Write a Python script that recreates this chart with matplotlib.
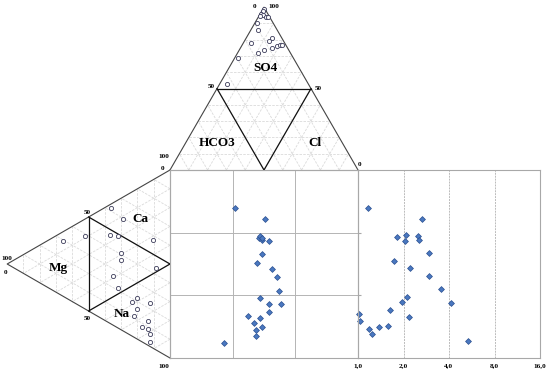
import numpy as np
import matplotlib.pyplot as plt

# anion triangle (percent)
so4 = [99, 97.5, 96, 95, 94.5, 94, 94, 90, 86, 78, 81, 79, 76, 77, 77, 75, 74, 72, 69, 53]
cl = [0.5, 0.5, 0.5, 2, 0.5, 4, 5, 1.5, 4, 4, 14, 13, 19, 20, 21, 17, 13, 11, 1.5, 4]

# cation triangle (percent)
mg = [36, 29, 66, 52.5, 37, 32, 10.5, 30, 30, 8.5, 35, 32, 20, 23.5, 12, 20, 22, 13.5, 17, 13.5, 12, 12]
na = [2, 11.5, 5, 9, 16, 19, 32, 29, 33, 48, 39, 47, 58, 58.5, 65, 64, 66.5, 73.5, 75, 78, 81, 85.5]

# central square (percent)
sq_x = [34.8, 50.3, 47.1, 48.1, 49.2, 48.7, 52.4, 49.2, 46.5, 54.0, 56.7, 57.8,
        48.1, 52.9, 58.8, 52.9, 41.7, 48.1, 44.9, 49.2, 45.5, 46.0, 28.9]
sq_y = [20.2, 26.1, 36.2, 35.1, 37.2, 36.2, 37.8, 44.7, 49.5, 52.7, 56.9, 64.4,
        68.1, 71.3, 71.3, 75.5, 77.7, 78.7, 81.4, 83.5, 85.1, 88.3, 92.0]

# right panel
rp_x = [1.16, 2.65, 1.81, 2.08, 2.05, 2.49, 2.53, 2.95, 1.73, 2.21, 2.95, 3.54,
        2.11, 1.95, 4.12, 1.63, 1.02, 2.17, 1.03, 1.58, 1.38, 1.18, 1.24, 5.34]
rp_y = [20.2, 26.1, 35.6, 34.6, 37.8, 35.1, 37.2, 44.1, 48.4, 52.1, 56.4, 63.3,
        67.6, 70.2, 70.7, 74.5, 76.6, 78.2, 80.3, 83.0, 83.5, 84.6, 87.2, 91.0]
rp_ticks = [1, 2, 4, 8, 16]
rp_labels = ["1,0", "2,0", "4,0", "8,0", "16,0"]

W, H = 547, 373
X0, Y0, S = 170, 170, 188
RW = 182
R3 = np.sqrt(3) / 2

SERIF = "Liberation Serif"
OUTLINE = "#444444"
GRIDC = "#dadada"
FRAME = "#a8a8a8"
BLUE = "#4a78c0"
BLUE_E = "#2a4f8f"


def top_xy(s, c):
    s = np.asarray(s, float) / 100
    c = np.asarray(c, float) / 100
    return X0 + S * (s / 2 + c), Y0 - S * R3 * s


def left_xy(m, n):
    m = np.asarray(m, float) / 100
    n = np.asarray(n, float) / 100
    return X0 - S * R3 * m, Y0 + S * (m / 2 + n)


fig = plt.figure(figsize=(W / 100, H / 100), dpi=100)
ax = fig.add_axes([0, 0, 1, 1])
ax.set_xlim(0, W)
ax.set_ylim(H, 0)
ax.axis("off")

# triangle grids
for f in np.arange(10, 100, 10):
    g = 100 - f
    for xy in (top_xy([f, f], [0, g]), top_xy([0, g], [f, f]), top_xy([0, g], [g, 0]),
               left_xy([f, f], [0, g]), left_xy([0, g], [f, f]), left_xy([0, g], [g, 0])):
        ax.plot(*xy, color=GRIDC, lw=0.6, ls=(0, (3, 1.5)), zorder=1)

# outlines
ax.plot(*top_xy([0, 100, 0], [0, 0, 100]), color=OUTLINE, lw=0.8, zorder=2)
ax.plot(*left_xy([0, 100, 0], [0, 0, 100]), color=OUTLINE, lw=0.8, zorder=2)
ax.plot(*top_xy([0, 0], [0, 100]), color=FRAME, lw=0.8, zorder=2)
ax.plot(*left_xy([0, 0], [0, 100]), color=FRAME, lw=0.8, zorder=2)

# 50% dividers
for xy in (top_xy([50, 50], [0, 50]), top_xy([50, 0], [0, 50]), top_xy([50, 0], [50, 50]),
           left_xy([50, 50], [0, 50]), left_xy([50, 0], [0, 50]), left_xy([50, 0], [50, 50])):
    ax.plot(*xy, color="#111111", lw=0.9, zorder=3)

ax.plot(*top_xy(so4, cl), "o", ms=3.0, mfc="white", mec="#3c3c5a", mew=0.6, zorder=4)
ax.plot(*left_xy(mg, na), "o", ms=3.0, mfc="white", mec="#3c3c5a", mew=0.6, zorder=4)

big = dict(family=SERIF, fontweight="bold", fontsize=9.5, ha="center", va="center", zorder=5)
ax.text(265, 68, "SO4", **big)
ax.text(217, 143, "HCO3", **big)
ax.text(315, 143, "Cl", **big)
ax.text(140, 219, "Ca", **big)
ax.text(58, 268, "Mg", **big)
ax.text(122, 314, "Na", **big)

small = dict(family=SERIF, fontweight="bold", fontsize=5.2, ha="center", va="center", zorder=5)
ax.text(255, 6, "0", **small)
ax.text(274, 6, "100", **small)
ax.text(211, 86, "50", **small)
ax.text(318, 88, "50", **small)
ax.text(164, 157, "100", **small)
ax.text(163, 168, "0", **small)
ax.text(360, 164, "0", **small)
ax.text(87, 212, "50", **small)
ax.text(87, 319, "50", **small)
ax.text(7, 258, "100", **small)
ax.text(6, 272, "0", **small)
ax.text(164, 366, "100", **small)

# central square
ax_sq = fig.add_axes([X0 / W, (H - Y0 - S) / H, S / W, S / H])
ax_sq.set_facecolor("none")
ax_sq.set_xlim(0, 100)
ax_sq.set_ylim(100, 0)
ax_sq.set_xticks([100 / 3, 200 / 3])
ax_sq.set_yticks([100 / 3, 200 / 3])
ax_sq.tick_params(length=0, labelbottom=False, labelleft=False)
ax_sq.grid(True, color="#b4b4b4", lw=0.7)
for sp in ax_sq.spines.values():
    sp.set_color(FRAME)
    sp.set_linewidth(0.8)
ax_sq.plot(sq_x, sq_y, "D", ms=3.0, mfc=BLUE, mec=BLUE_E, mew=0.5)

# right panel
ax_r = fig.add_axes([(X0 + S) / W, (H - Y0 - S) / H, RW / W, S / H])
ax_r.set_facecolor("none")
ax_r.set_xscale("log", base=2)
ax_r.set_xlim(1, 16)
ax_r.set_ylim(100, 0)
ax_r.set_xticks(rp_ticks)
ax_r.set_xticklabels(rp_labels, family=SERIF, fontweight="bold", fontsize=5.2)
ax_r.xaxis.set_minor_locator(plt.NullLocator())
ax_r.set_yticks([100 / 3, 200 / 3])
ax_r.tick_params(axis="x", length=0, pad=4)
ax_r.tick_params(axis="y", length=2, direction="in", color=FRAME, labelleft=False)
ax_r.grid(True, axis="x", color="#bbbbbb", lw=0.7, ls=(0, (2, 1)))
for sp in ax_r.spines.values():
    sp.set_color(FRAME)
    sp.set_linewidth(0.8)
ax_r.plot(rp_x, rp_y, "D", ms=3.0, mfc=BLUE, mec=BLUE_E, mew=0.5, clip_on=False)

fig.savefig("out.png", dpi=100)
